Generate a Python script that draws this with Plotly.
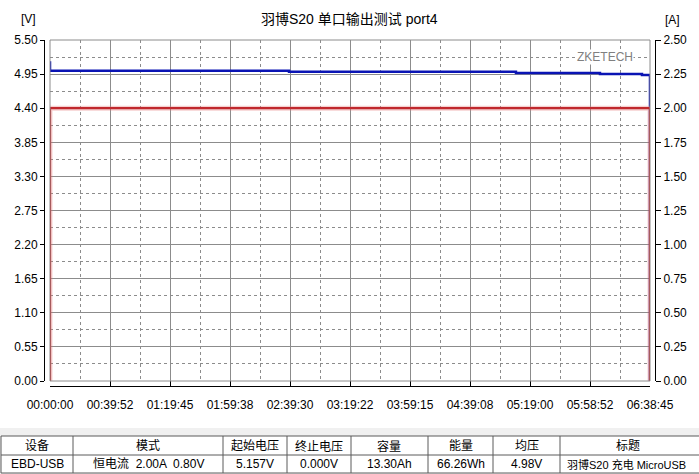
import plotly.graph_objects as go

# ---- data ----
TOTAL_S = 23925  # 06:38:45

volt_t = [0, 0, 9530, 18580, 21930, 23605, 23925, 23925]
volt_v = [5.157, 5.005, 4.989, 4.968, 4.953, 4.935, 4.935, 0.0]

curr_t = [0, 0, 23925, 23925]
curr_a = [0.0, 2.0, 2.0, 0.0]

x_tick_labels = ["00:00:00", "00:39:52", "01:19:45", "01:59:38", "02:39:30", "03:19:22",
                 "03:59:15", "04:39:08", "05:19:00", "05:58:52", "06:38:45"]
v_ticks = [0.00, 0.55, 1.10, 1.65, 2.20, 2.75, 3.30, 3.85, 4.40, 4.95, 5.50]
a_ticks = [0.00, 0.25, 0.50, 0.75, 1.00, 1.25, 1.50, 1.75, 2.00, 2.25, 2.50]

table_headers = ["设备", "模式", "起始电压", "终止电压", "容量", "能量", "均压", "标题"]
table_values = ["EBD-USB", "恒电流  2.00A  0.80V", "5.157V", "0.000V",
                "13.30Ah", "66.26Wh", "4.98V", "羽博S20 充电 MicroUSB"]
col_edges = [1, 73, 223, 287, 351, 428, 493, 560, 712]

TITLE = "羽博S20 单口输出测试 port4"

# ---- layout geometry (pixels) ----
W, H = 699, 474
ML, MR, MT, MB = 44, 44, 40, 88
PW, PH = W - ML - MR, H - MT - MB
FONT = "Liberation Sans, Arial, Noto Sans CJK SC, sans-serif"
GRID = "#8c8c8c"


def px(x):
    return (x - ML) / PW


def py(y):
    return (H - MB - y) / PH


tick_step = TOTAL_S / 10
x_tickvals = [i * tick_step for i in range(11)]
x_minor = [(i + 0.5) * tick_step for i in range(10)]

fig = go.Figure()
fig.add_trace(go.Scatter(x=volt_t, y=volt_v, mode="lines", yaxis="y",
                         line=dict(color="#0a14b4", width=2.5, shape="hv"), showlegend=False))
# soft halo under the current trace
fig.add_trace(go.Scatter(x=curr_t, y=curr_a, mode="lines", yaxis="y2",
                         line=dict(color="rgba(230,120,120,0.35)", width=5), showlegend=False))
fig.add_trace(go.Scatter(x=curr_t, y=curr_a, mode="lines", yaxis="y2",
                         line=dict(color="#c0282d", width=2.2), showlegend=False))

fig.update_layout(
    width=W, height=H,
    margin=dict(l=ML, r=MR, t=MT, b=MB),
    paper_bgcolor="white", plot_bgcolor="white",
    font=dict(family=FONT, size=12, color="black"),
    xaxis=dict(
        domain=[px(50), px(650)], range=[0, TOTAL_S], anchor="free", position=0,
        tickmode="array", tickvals=x_tickvals, ticktext=x_tick_labels,
        ticks="inside", ticklen=5, tickcolor="black",
        showline=True, linecolor="black", linewidth=1,
        showgrid=True, gridcolor=GRID, gridwidth=1,
        minor=dict(tickmode="array", tickvals=x_minor, showgrid=True,
                   gridcolor=GRID, griddash="3px,3px", ticks=""),
        zeroline=False, ticklabelstandoff=8,
    ),
    yaxis=dict(
        domain=[py(381), 1], range=[0, 5.5], anchor="free", position=0,
        tickmode="array", tickvals=v_ticks, ticktext=[f"{v:.2f}" for v in v_ticks],
        ticks="outside", ticklen=4, tickcolor="black",
        showline=True, linecolor="black", linewidth=1,
        showgrid=True, gridcolor=GRID, gridwidth=1,
        minor=dict(dtick=0.275, tick0=0, showgrid=True,
                   gridcolor=GRID, griddash="3px,3px", ticks=""),
        zeroline=False,
    ),
    yaxis2=dict(
        domain=[py(381), 1], range=[0, 2.5], anchor="free", position=1,
        overlaying="y", side="right",
        tickmode="array", tickvals=a_ticks, ticktext=[f"{a:.2f}" for a in a_ticks],
        ticks="outside", ticklen=5, tickcolor="black",
        showline=True, linecolor="black", linewidth=1,
        showgrid=False, zeroline=False,
    ),
)

# plot border
fig.add_shape(type="rect", xref="x domain", yref="y domain", x0=0, x1=1, y0=0, y1=1,
              line=dict(color=GRID, width=1), layer="above")

annotations = [
    dict(x=0.5, y=py(19), xref="paper", yref="paper", text=TITLE, showarrow=False,
         font=dict(size=14), xanchor="center", yanchor="middle"),
    dict(x=px(28), y=py(19), xref="paper", yref="paper", text="[V]", showarrow=False,
         font=dict(size=12), xanchor="center", yanchor="middle"),
    dict(x=px(672), y=py(20), xref="paper", yref="paper", text="[A]", showarrow=False,
         font=dict(size=12), xanchor="center", yanchor="middle"),
    dict(x=px(605), y=py(57), xref="paper", yref="paper", text="ZKETECH", showarrow=False,
         font=dict(size=12, color="#808080"), bgcolor="white", borderpad=0,
         xanchor="center", yanchor="middle"),
]

# ---- summary table under the chart ----
shapes = [
    dict(type="rect", xref="paper", yref="paper", x0=px(0), x1=px(W), y0=py(H), y1=py(428),
         fillcolor="#f0f0f0", line=dict(width=0), layer="below"),
    dict(type="rect", xref="paper", yref="paper", x0=px(col_edges[0]), x1=px(col_edges[-1]),
         y0=py(473), y1=py(436), fillcolor="white", line=dict(color="#5a5a5a", width=1)),
    dict(type="line", xref="paper", yref="paper", x0=px(col_edges[0]), x1=px(col_edges[-1]),
         y0=py(455), y1=py(455), line=dict(color="#5a5a5a", width=1)),
]
for e in col_edges[1:-1]:
    shapes.append(dict(type="line", xref="paper", yref="paper", x0=px(e), x1=px(e),
                       y0=py(473), y1=py(436), line=dict(color="#5a5a5a", width=1)))
for s in shapes:
    fig.add_shape(**s)

for i, (hdr, val) in enumerate(zip(table_headers, table_values)):
    left, right = col_edges[i], col_edges[i + 1]
    cx = (left + right) / 2
    if i == len(table_headers) - 1:
        cx = 628
    annotations.append(dict(x=px(cx), y=py(446), xref="paper", yref="paper", text=hdr,
                            showarrow=False, font=dict(size=12), xanchor="center", yanchor="middle"))
    if i == len(table_values) - 1:
        # last column runs to the page edge; keep it just inside
        annotations.append(dict(x=px(565), y=py(464), xref="paper", yref="paper", text=val,
                                showarrow=False, font=dict(size=11), xanchor="left", yanchor="middle"))
    else:
        annotations.append(dict(x=px(cx), y=py(464), xref="paper", yref="paper", text=val,
                                showarrow=False, font=dict(size=12), xanchor="center", yanchor="middle"))

fig.update_layout(annotations=annotations)

# drop the browser's default body margin so the figure sits at the page origin
fig.write_html("out.html", config={"displayModeBar": False},
               post_script="document.body.style.margin='0';")
